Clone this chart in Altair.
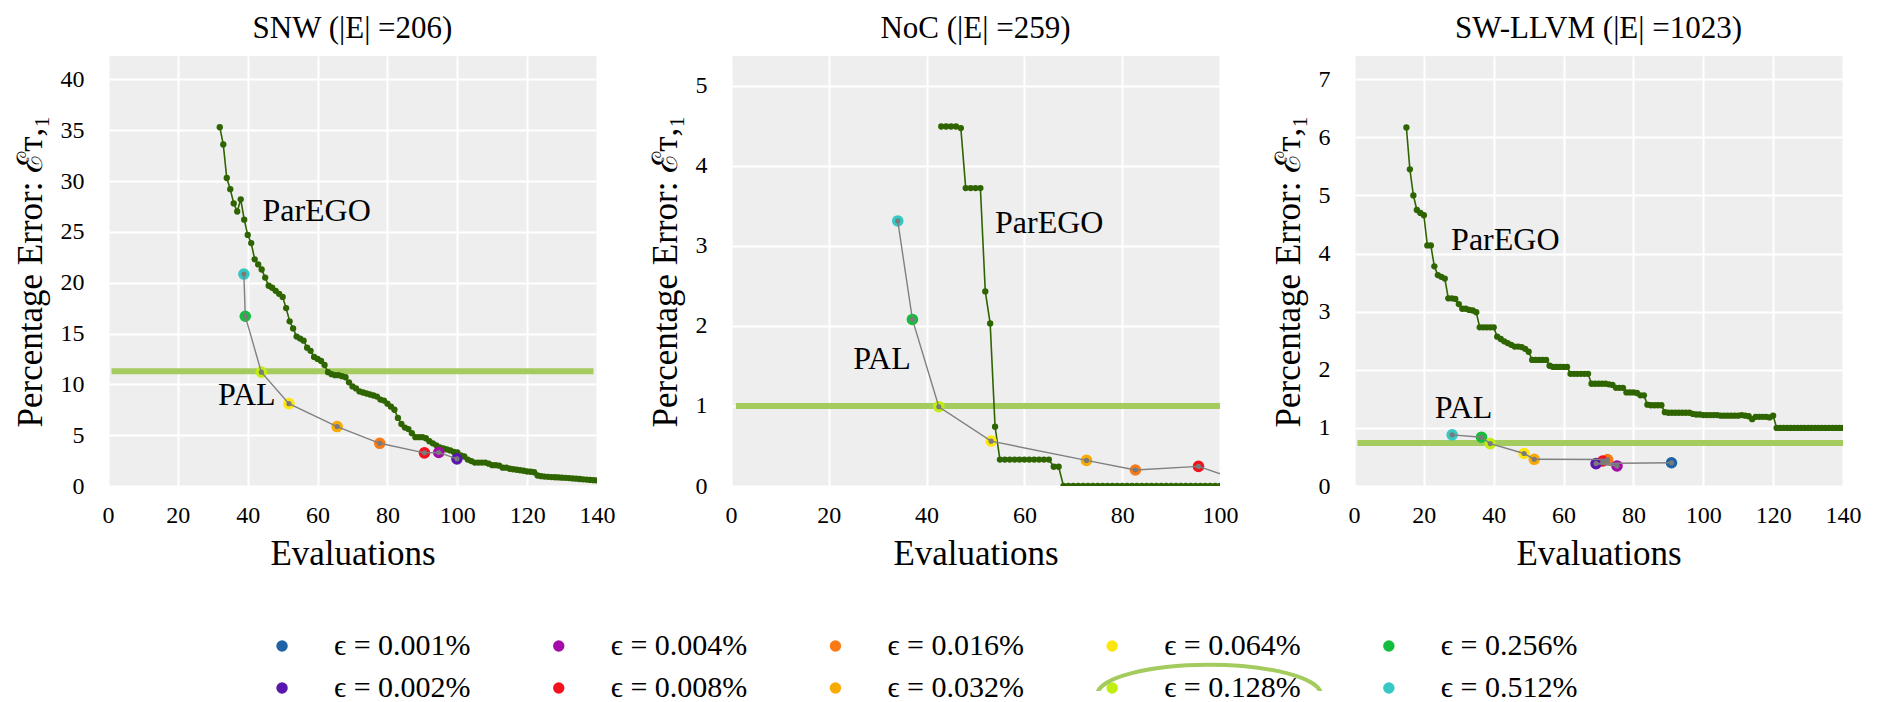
import altair as alt
import pandas as pd

FONT = "Liberation Serif"
LEGEND_FONT = "Liberation Serif, DejaVu Serif, serif"

# ---------------- legend / epsilon colours ----------------
EPS = ["0.001", "0.002", "0.004", "0.008", "0.016", "0.032", "0.064", "0.128", "0.256", "0.512"]
EPS_COLORS = ["#1f62a5", "#5a17ae", "#a30ca8", "#f2121e", "#fb7a14", "#f9aa00",
              "#fde60a", "#bfee10", "#14be3c", "#36c8c4"]
HIGHLIGHT_EPS = "0.128"

# ---------------- panel settings ----------------
PANEL_TITLES = ["SNW (|E| =206)", "NoC (|E| =259)", "SW-LLVM (|E| =1023)"]
X_MAX = [140, 100, 140]
Y_MAX = [42.3, 5.37, 7.4]
X_TICKS = [[0, 20, 40, 60, 80, 100, 120, 140], [0, 20, 40, 60, 80, 100],
           [0, 20, 40, 60, 80, 100, 120, 140]]
Y_TICKS = [[0, 5, 10, 15, 20, 25, 30, 35, 40], [0, 1, 2, 3, 4, 5], [0, 1, 2, 3, 4, 5, 6, 7]]

# ---------------- ParEGO curves (one value per evaluation) ----------------
SNW_PAREGO_START = 32
SNW_PAREGO = [35.3, 33.6, 30.3, 29.2, 27.8, 27.0, 28.2, 26.2, 24.7, 23.9,
              22.3, 21.8, 21.3, 20.5, 19.7, 19.5, 19.2, 18.9, 18.6, 17.5,
              16.2, 15.5, 14.7, 14.5, 14.3, 13.6, 13.3, 12.7, 12.5, 12.3,
              11.9, 11.2, 11.0, 10.9, 10.9, 10.8, 10.7, 10.2, 9.8, 9.6,
              9.3, 9.2, 9.1, 9.0, 8.9, 8.8, 8.5, 8.4, 8.1, 7.8,
              7.5, 6.7, 6.1, 5.75, 5.6, 5.2, 4.8, 4.8, 4.8, 4.7,
              4.4, 4.2, 4.0, 3.8, 3.7, 3.6, 3.5, 3.35, 3.3, 3.0,
              2.9, 2.6, 2.45, 2.3, 2.3, 2.3, 2.3, 2.2, 2.05, 2.05,
              2.0, 1.8, 1.8, 1.7, 1.65, 1.6, 1.55, 1.5, 1.43, 1.4,
              1.35, 1.03, 0.97, 0.93, 0.9, 0.88, 0.86, 0.84, 0.82, 0.8,
              0.78, 0.75, 0.72, 0.69, 0.66, 0.63, 0.6, 0.57, 0.55]

NOC_PAREGO_START = 43
NOC_PAREGO = [4.49, 4.49, 4.49, 4.49, 4.47,
              3.72, 3.72, 3.72, 3.72,
              2.43, 2.03, 0.74,
              0.33, 0.33, 0.33, 0.33, 0.33, 0.33, 0.33, 0.33, 0.33, 0.33, 0.33,
              0.24, 0.24,
              0.0, 0.0, 0.0, 0.0, 0.0, 0.0, 0.0, 0.0, 0.0, 0.0, 0.0,
              0.0, 0.0, 0.0, 0.0, 0.0, 0.0, 0.0, 0.0, 0.0, 0.0, 0.0,
              0.0, 0.0, 0.0, 0.0, 0.0, 0.0, 0.0, 0.0, 0.0, 0.0, 0.0]

LLVM_PAREGO_START = 15
LLVM_PAREGO = [6.17, 5.45, 5.0, 4.75, 4.70, 4.66, 4.14, 4.14, 3.78, 3.63,
               3.60, 3.57, 3.23, 3.23, 3.22, 3.13, 3.05, 3.05, 3.03, 3.02,
               2.99, 2.73, 2.73, 2.73, 2.73, 2.73, 2.57, 2.53, 2.49, 2.46,
               2.43, 2.40, 2.40, 2.39, 2.36, 2.31, 2.17, 2.17, 2.17, 2.17,
               2.17, 2.07, 2.05, 2.05, 2.05, 2.05, 2.05, 1.93, 1.93, 1.93,
               1.93, 1.93, 1.93, 1.76, 1.76, 1.76, 1.76, 1.76, 1.75, 1.74,
               1.69, 1.69, 1.69, 1.61, 1.61, 1.61, 1.60, 1.56, 1.56, 1.40,
               1.39, 1.39, 1.39, 1.39, 1.27, 1.26, 1.26, 1.26, 1.26, 1.26,
               1.26, 1.26, 1.24, 1.23, 1.23, 1.22, 1.22, 1.22, 1.22, 1.22,
               1.21, 1.21, 1.21, 1.21, 1.21, 1.21, 1.22, 1.21, 1.20, 1.15,
               1.19, 1.19, 1.19, 1.19, 1.18, 1.21, 1.00, 1.00, 1.00, 1.00,
               1.00, 1.00, 1.00, 1.00, 1.00, 1.00, 1.00, 1.00, 1.00, 1.00,
               1.00, 1.00, 1.00, 1.00, 1.00, 1.00]

# ---------------- PAL results (in path order) ----------------
SNW_PAL_EPS = ["0.512", "0.256", "0.128", "0.064", "0.032", "0.016", "0.008", "0.004", "0.002"]
SNW_PAL_X = [38.9, 39.3, 43.9, 51.8, 65.6, 77.8, 90.6, 94.7, 99.9]
SNW_PAL_Y = [20.85, 16.7, 11.2, 8.1, 5.85, 4.2, 3.26, 3.3, 2.67]

NOC_PAL_EPS = ["0.512", "0.256", "0.128", "0.064", "0.032", "0.016", "0.008", "0.004"]
NOC_PAL_X = [34.1, 37.1, 42.5, 53.2, 72.7, 82.7, 95.6, 106.0]
NOC_PAL_Y = [3.31, 2.08, 0.99, 0.56, 0.32, 0.20, 0.245, 0.03]

LLVM_PAL_EPS = ["0.512", "0.256", "0.128", "0.064", "0.032", "0.016", "0.008", "0.004", "0.002", "0.001"]
LLVM_PAL_X = [28.1, 36.5, 39.0, 48.7, 51.6, 72.6, 71.2, 75.3, 69.3, 90.9]
LLVM_PAL_Y = [0.88, 0.84, 0.73, 0.56, 0.46, 0.455, 0.43, 0.345, 0.386, 0.40]

# ---------------- highlighted level ----------------
HLINE_Y = [11.3, 1.0, 0.74]
HLINE_X1 = [1, 1, 1]
HLINE_X2 = [139, 100, 140]

# ---------------- annotations ----------------
PAREGO_LABEL_X = [44.2, 54.0, 27.8]
PAREGO_LABEL_Y = [27.1, 3.29, 4.23]
PAL_LABEL_X = [31.5, 25.0, 23.1]
PAL_LABEL_Y = [9.0, 1.59, 1.35]

PAREGO_COLOR = "#2f6500"
HLINE_COLOR = "#a4cb5e"
PAL_LINE_COLOR = "#808080"

Y_TITLE = "Percentage Error: \u2130\u1d1b,\u2081"

color_scale = alt.Scale(domain=EPS, range=EPS_COLORS)


def panel(i, parego_start, parego, pal_eps, pal_x, pal_y):
    xs = alt.Scale(domain=[0, X_MAX[i]], nice=False, zero=False)
    ys = alt.Scale(domain=[0, Y_MAX[i]], nice=False, zero=False)
    xax = alt.Axis(values=X_TICKS[i], title="Evaluations", labelFlush=False)
    yax = alt.Axis(values=Y_TICKS[i], title=Y_TITLE, labelFlush=False)

    def X(f="x"):
        return alt.X(f"{f}:Q", scale=xs, axis=xax)

    def Y(f="y"):
        return alt.Y(f"{f}:Q", scale=ys, axis=yax)

    par_df = pd.DataFrame({"x": list(range(parego_start, parego_start + len(parego))), "y": parego})
    pal_df = pd.DataFrame({"x": pal_x, "y": pal_y, "eps": pal_eps, "i": list(range(len(pal_x)))})
    h_df = pd.DataFrame({"x": [HLINE_X1[i]], "x2": [HLINE_X2[i]], "y": [HLINE_Y[i]]})
    ann_df = pd.DataFrame({"x": [PAREGO_LABEL_X[i], PAL_LABEL_X[i]],
                           "y": [PAREGO_LABEL_Y[i], PAL_LABEL_Y[i]],
                           "t": ["ParEGO", "PAL"]})

    hline = alt.Chart(h_df).mark_rule(color=HLINE_COLOR, strokeWidth=6, clip=True).encode(
        x=X(), x2="x2:Q", y=Y())
    par_line = alt.Chart(par_df).mark_line(color=PAREGO_COLOR, strokeWidth=1.6, clip=True).encode(
        x=X(), y=Y())
    par_pts = alt.Chart(par_df).mark_circle(color=PAREGO_COLOR, size=40, opacity=1, clip=True).encode(
        x=X(), y=Y())
    pal_circ = alt.Chart(pal_df).mark_circle(size=135, opacity=1, clip=True).encode(
        x=X(), y=Y(), color=alt.Color("eps:N", scale=color_scale, legend=None))
    pal_line = alt.Chart(pal_df).mark_line(color=PAL_LINE_COLOR, strokeWidth=1.4, clip=True).encode(
        x=X(), y=Y(), order=alt.Order("i:Q"))
    pal_dots = alt.Chart(pal_df).mark_circle(color="#7a7a7a", size=26, opacity=1, clip=True).encode(
        x=X(), y=Y())
    ann = alt.Chart(ann_df).mark_text(align="left", baseline="middle", font=FONT, fontSize=32,
                                      color="black").encode(x=X(), y=Y(), text="t:N")

    return alt.layer(hline, par_line, par_pts, pal_circ, pal_line, pal_dots, ann).properties(
        width=489, height=430,
        title=alt.Title(PANEL_TITLES[i], font=FONT, fontSize=31, fontWeight="normal",
                        color="black", offset=11))


p1 = panel(0, SNW_PAREGO_START, SNW_PAREGO, SNW_PAL_EPS, SNW_PAL_X, SNW_PAL_Y)
p2 = panel(1, NOC_PAREGO_START, NOC_PAREGO, NOC_PAL_EPS, NOC_PAL_X, NOC_PAL_Y)
p3 = panel(2, LLVM_PAREGO_START, LLVM_PAREGO, LLVM_PAL_EPS, LLVM_PAL_X, LLVM_PAL_Y)

row = alt.hconcat(p1, p2, p3, spacing=134, bounds="flush")

# ---------------- legend (2 rows x 5 columns, column-major) ----------------
leg_df = pd.DataFrame({
    "eps": EPS,
    "col": [k // 2 for k in range(len(EPS))],
    "row": [k % 2 for k in range(len(EPS))],
})
leg_df["label"] = "\u03f5 = " + leg_df["eps"] + "%"

lx = alt.X("col:Q", scale=alt.Scale(domain=[-0.629, 4.792], nice=False, zero=False), axis=None)
ly = alt.Y("row:Q", scale=alt.Scale(domain=[-0.5, 1.0714], nice=False, zero=False, reverse=True), axis=None)

leg_sym = alt.Chart(leg_df).mark_circle(size=130, opacity=1).encode(
    x=lx, y=ly, color=alt.Color("eps:N", scale=color_scale, legend=None))
leg_txt = alt.Chart(leg_df).mark_text(align="left", baseline="middle", dx=52, font=LEGEND_FONT,
                                      fontSize=30, color="black").encode(x=lx, y=ly, text="label:N")
ELLIPSE = "M -1 0 A 1 0.27 0 1 0 1 0 A 1 0.27 0 1 0 -1 0 Z"
leg_ring = alt.Chart(leg_df).transform_filter(
    alt.datum.eps == HIGHLIGHT_EPS
).mark_point(shape=ELLIPSE, size=50176, filled=False, stroke=HLINE_COLOR, strokeWidth=4,
             opacity=1, xOffset=97, yOffset=7, clip=True).encode(x=lx, y=ly)

legend = alt.layer(leg_sym, leg_txt, leg_ring).properties(
    width=1500, height=66,
    view=alt.ViewBackground(fill="white", strokeWidth=0))

chart = alt.vconcat(row, legend, spacing=54).properties(
    padding={"left": 5, "top": 5, "right": 5, "bottom": 0}
).configure_view(
    fill="#eeeeee", strokeWidth=0
).configure_axis(
    labelFont=FONT, titleFont=FONT, labelFontSize=24, titleFontSize=35,
    titleFontWeight="normal", labelColor="black", titleColor="black",
    domain=False, ticks=False, gridColor="white", gridWidth=2, gridOpacity=1
).configure_axisX(
    labelPadding=17, titlePadding=9
).configure_axisY(
    labelPadding=24, titlePadding=12
)

chart.save("out.html", embed_options={"renderer": "svg", "actions": False})
